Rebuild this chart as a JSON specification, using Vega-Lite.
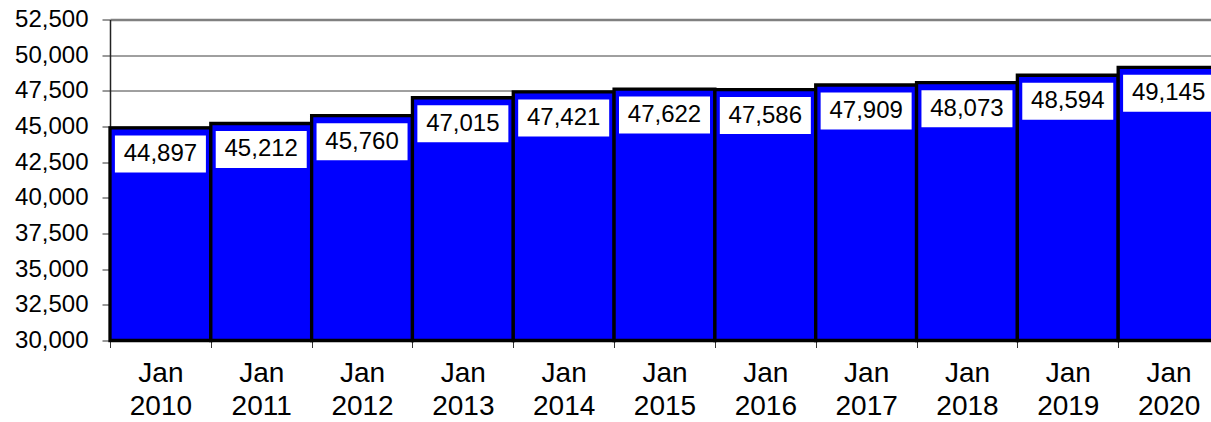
{
  "$schema": "https://vega.github.io/schema/vega-lite/v6.json",
  "autosize": {"type": "none"},
  "padding": {"left": 110, "top": 19.5, "right": 0, "bottom": 81.5},
  "width": 1109,
  "height": 321,
  "background": "white",
  "config": {
    "view": {"stroke": null},
    "font": "Liberation Sans",
    "axis": {"labelFont": "Liberation Sans", "labelColor": "black"}
  },
  "data": {
    "values": [
      {"label": "Jan 2010", "value": 44897},
      {"label": "Jan 2011", "value": 45212},
      {"label": "Jan 2012", "value": 45760},
      {"label": "Jan 2013", "value": 47015},
      {"label": "Jan 2014", "value": 47421},
      {"label": "Jan 2015", "value": 47622},
      {"label": "Jan 2016", "value": 47586},
      {"label": "Jan 2017", "value": 47909},
      {"label": "Jan 2018", "value": 48073},
      {"label": "Jan 2019", "value": 48594},
      {"label": "Jan 2020", "value": 49145}
    ]
  },
  "encoding": {
    "x": {
      "field": "label",
      "type": "nominal",
      "sort": null,
      "scale": {"paddingInner": 0, "paddingOuter": 0},
      "axis": {
        "title": null,
        "labelAngle": 0,
        "labelExpr": "split(datum.label, ' ')",
        "labelFontSize": 28,
        "labelLineHeight": 33,
        "labelPadding": 12,
        "tickBand": "extent",
        "tickSize": 7,
        "tickColor": "#333333",
        "tickWidth": 1,
        "domainColor": "black",
        "domainWidth": 2
      }
    },
    "y": {
      "field": "value",
      "type": "quantitative",
      "scale": {"domain": [30000, 52500], "zero": false, "nice": false},
      "axis": {
        "title": null,
        "values": [30000, 32500, 35000, 37500, 40000, 42500, 45000, 47500, 50000, 52500],
        "format": ",.0f",
        "labelFontSize": 24,
        "labelPadding": 14,
        "tickSize": 8,
        "tickColor": "#333333",
        "tickWidth": 1,
        "domainColor": "#222222",
        "domainWidth": 1.5,
        "grid": true,
        "gridColor": {"condition": {"test": "datum.value === 52500", "value": "#808080"}, "value": "#404040"},
        "gridWidth": {"condition": {"test": "datum.value === 52500", "value": 2.5}, "value": 1},
        "gridOpacity": 1
      }
    }
  },
  "layer": [
    {
      "mark": {"type": "bar", "fill": "#0000FF", "stroke": "black", "strokeWidth": 3.3},
      "encoding": {"y2": {"datum": 30000}}
    },
    {
      "mark": {
        "type": "point",
        "shape": "M-1,-0.4066L1,-0.4066L1,0.4066L-1,0.4066Z",
        "size": 8281,
        "filled": true,
        "fill": "white",
        "opacity": 1,
        "strokeWidth": 0,
        "yOffset": 26
      }
    },
    {
      "mark": {
        "type": "text",
        "font": "Liberation Sans",
        "fontSize": 24,
        "color": "black",
        "baseline": "middle",
        "align": "center",
        "yOffset": 26
      },
      "encoding": {"text": {"field": "value", "type": "quantitative", "format": ","}}
    }
  ]
}
